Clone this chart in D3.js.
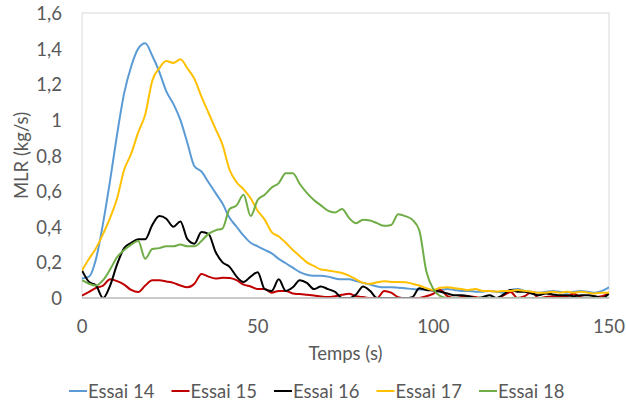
<!DOCTYPE html>
<html>
<head>
<meta charset="utf-8">
<script src="https://cdn.jsdelivr.net/npm/d3@7"></script>
<style>
  body { margin: 0; background: #fff; }
  text { font-family: Lato, "Liberation Sans", sans-serif; fill: #595959; }
</style>
</head>
<body>
<svg id="chart" width="626" height="403"></svg>
<script>
// temps (s)
const temps = [0,2,4,6,8,10,12,14,16,18,20,22,24,26,28,30,32,34,36,38,40,42,44,46,48,50,
  52,54,56,58,60,62,64,66,68,70,72,74,76,78,80,82,84,86,88,90,92,94,96,98,100,
  102,104,106,108,110,112,114,116,118,120,122,124,126,128,130,132,134,136,138,140,142,144,146,148,150];

const essai14 = [0.11,0.12,0.22,0.42,0.66,0.92,1.15,1.30,1.40,1.43,1.36,1.27,1.16,1.09,1.00,0.87,0.74,0.71,0.65,0.59,0.53,0.45,0.40,0.35,0.31,0.29,
  0.27,0.25,0.22,0.195,0.17,0.145,0.13,0.125,0.125,0.12,0.11,0.105,0.105,0.095,0.085,0.075,0.065,0.06,0.06,0.058,0.055,0.05,0.048,0.046,0.045,
  0.045,0.05,0.045,0.04,0.04,0.035,0.035,0.04,0.035,0.03,0.045,0.05,0.04,0.035,0.03,0.035,0.04,0.035,0.03,0.035,0.04,0.035,0.03,0.04,0.06];

const essai15 = [0.014,0.035,0.057,0.07,0.105,0.095,0.075,0.045,0.033,0.07,0.10,0.10,0.093,0.085,0.07,0.06,0.08,0.135,0.12,0.11,0.113,0.112,0.10,0.075,0.065,0.05,
  0.05,0.03,0.04,0.04,0.025,0.022,0.018,0.014,0.008,0.005,0.01,0.018,0.024,0.01,0.005,0,0,0.04,0.03,0.005,0,0,0,0.01,0.024,
  0.045,0.01,0,0.005,0.01,0.005,0,0,0,0.015,0.033,0,0.01,0.033,0,0.005,0.01,0.005,0.01,0.024,0.005,0,0.005,0.01,0.024];

const essai16 = [0.155,0.09,0.07,0,0.07,0.19,0.28,0.31,0.33,0.33,0.41,0.46,0.445,0.40,0.43,0.33,0.305,0.37,0.36,0.26,0.20,0.175,0.12,0.09,0.12,0.145,
  0.05,0.04,0.105,0.04,0.06,0.10,0.085,0.05,0.065,0.05,0.035,0,0,0.02,0.065,0.04,0,0,0,0,0,0.005,0.055,0.045,0.042,
  0.035,0.025,0.015,0.015,0.01,0,0.005,0.015,0,0.02,0.045,0.035,0.035,0.025,0.015,0.025,0.02,0.015,0.015,0.01,0.015,0.015,0.01,0,0.025];

const essai17 = [0.155,0.22,0.28,0.36,0.45,0.56,0.72,0.81,0.93,1.03,1.22,1.29,1.33,1.32,1.34,1.29,1.23,1.13,1.04,0.95,0.86,0.72,0.65,0.61,0.56,0.49,
  0.44,0.37,0.345,0.31,0.27,0.235,0.20,0.18,0.16,0.155,0.148,0.14,0.126,0.105,0.085,0.08,0.088,0.094,0.09,0.09,0.089,0.08,0.07,0.055,0.045,
  0.058,0.06,0.055,0.05,0.045,0.05,0.04,0.04,0.035,0.04,0.04,0.045,0.04,0.035,0.03,0.03,0.035,0.03,0.035,0.03,0.035,0.03,0.025,0.03,0.03];

const essai18 = [0.10,0.08,0.07,0.10,0.16,0.23,0.27,0.30,0.32,0.22,0.275,0.28,0.29,0.29,0.30,0.29,0.29,0.32,0.36,0.38,0.39,0.50,0.52,0.58,0.46,0.55,
  0.58,0.62,0.645,0.70,0.70,0.64,0.59,0.55,0.52,0.49,0.48,0.50,0.45,0.42,0.44,0.435,0.42,0.405,0.41,0.47,0.46,0.44,0.38,0.15,0.05,
  0.01,0,0,0,0,0,0,0,0,0,0,0,0,0,0,0,0,0,0,0,0,0,0,0,0];

const seriesNames = ["Essai 14","Essai 15","Essai 16","Essai 17","Essai 18"];
const seriesValues = [essai14, essai15, essai16, essai17, essai18];
const colors = ["#5B9BD5","#C00000","#000000","#FFC000","#70AD47"];
const xTicks = [0,50,100,150];
const yTicks = [0,0.2,0.4,0.6,0.8,1,1.2,1.4,1.6];

const svg = d3.select("#chart");
const plotLeft = 82, plotRight = 609, plotTop = 13, plotBottom = 298;

const x = d3.scaleLinear().domain([0,150]).range([plotLeft, plotRight]);
const y = d3.scaleLinear().domain([0,1.6]).range([plotBottom, plotTop]);

// plot area border
svg.append("rect")
    .attr("x", plotLeft).attr("y", plotTop)
    .attr("width", plotRight-plotLeft).attr("height", plotBottom-plotTop)
    .attr("fill", "none").attr("stroke", "#d9d9d9").attr("stroke-width", 1);

svg.append("defs").append("clipPath").attr("id","clip")
  .append("rect").attr("x", plotLeft).attr("y", plotTop-2).attr("width", plotRight-plotLeft).attr("height", plotBottom-plotTop+2);

const line = d3.line()
    .x((d,i) => x(temps[i]))
    .y(d => y(d))
    .curve(d3.curveMonotoneX);

const g = svg.append("g").attr("clip-path","url(#clip)");
seriesValues.forEach((vals, k) => {
    g.append("path")
        .attr("d", line(vals))
        .attr("fill","none")
        .attr("stroke", colors[k])
        .attr("stroke-width", 2)
        .attr("stroke-linejoin","round");
});

// bottom axis line
svg.append("line")
    .attr("x1", plotLeft).attr("x2", plotRight)
    .attr("y1", plotBottom).attr("y2", plotBottom)
    .attr("stroke", "#bfbfbf").attr("stroke-width", 1.5);

const fmt = d => String(d).replace(".", ",");

svg.selectAll(".ytick").data(yTicks).enter().append("text")
    .attr("class","ytick")
    .attr("x", 62).attr("y", d => y(d) + 7)
    .attr("text-anchor","end")
    .style("font-size","18.5px")
    .text(fmt);

svg.selectAll(".xtick").data(xTicks).enter().append("text")
    .attr("class","xtick")
    .attr("x", d => x(d)).attr("y", 333)
    .attr("text-anchor","middle")
    .style("font-size","18.5px")
    .text(d => d);

svg.append("text")
    .attr("x", (plotLeft+plotRight)/2).attr("y", 360)
    .attr("text-anchor","middle")
    .style("font-size","18.5px")
    .text("Temps (s)");

svg.append("text")
    .attr("transform", `translate(28, ${(plotTop+plotBottom)/2}) rotate(-90)`)
    .attr("text-anchor","middle")
    .style("font-size","18.5px")
    .text("MLR (kg/s)");

// legend
const legend = svg.append("g").attr("transform","translate(69, 391)");
seriesNames.forEach((name, k) => {
    const item = legend.append("g").attr("transform", `translate(${k*102.5}, 0)`);
    item.append("line")
        .attr("x1", 0).attr("x2", 18).attr("y1", 0).attr("y2", 0)
        .attr("stroke", colors[k]).attr("stroke-width", 2);
    item.append("text")
        .attr("x", 19).attr("y", 6.5)
        .style("font-size","18.5px")
        .text(name);
});
</script>
</body>
</html>
